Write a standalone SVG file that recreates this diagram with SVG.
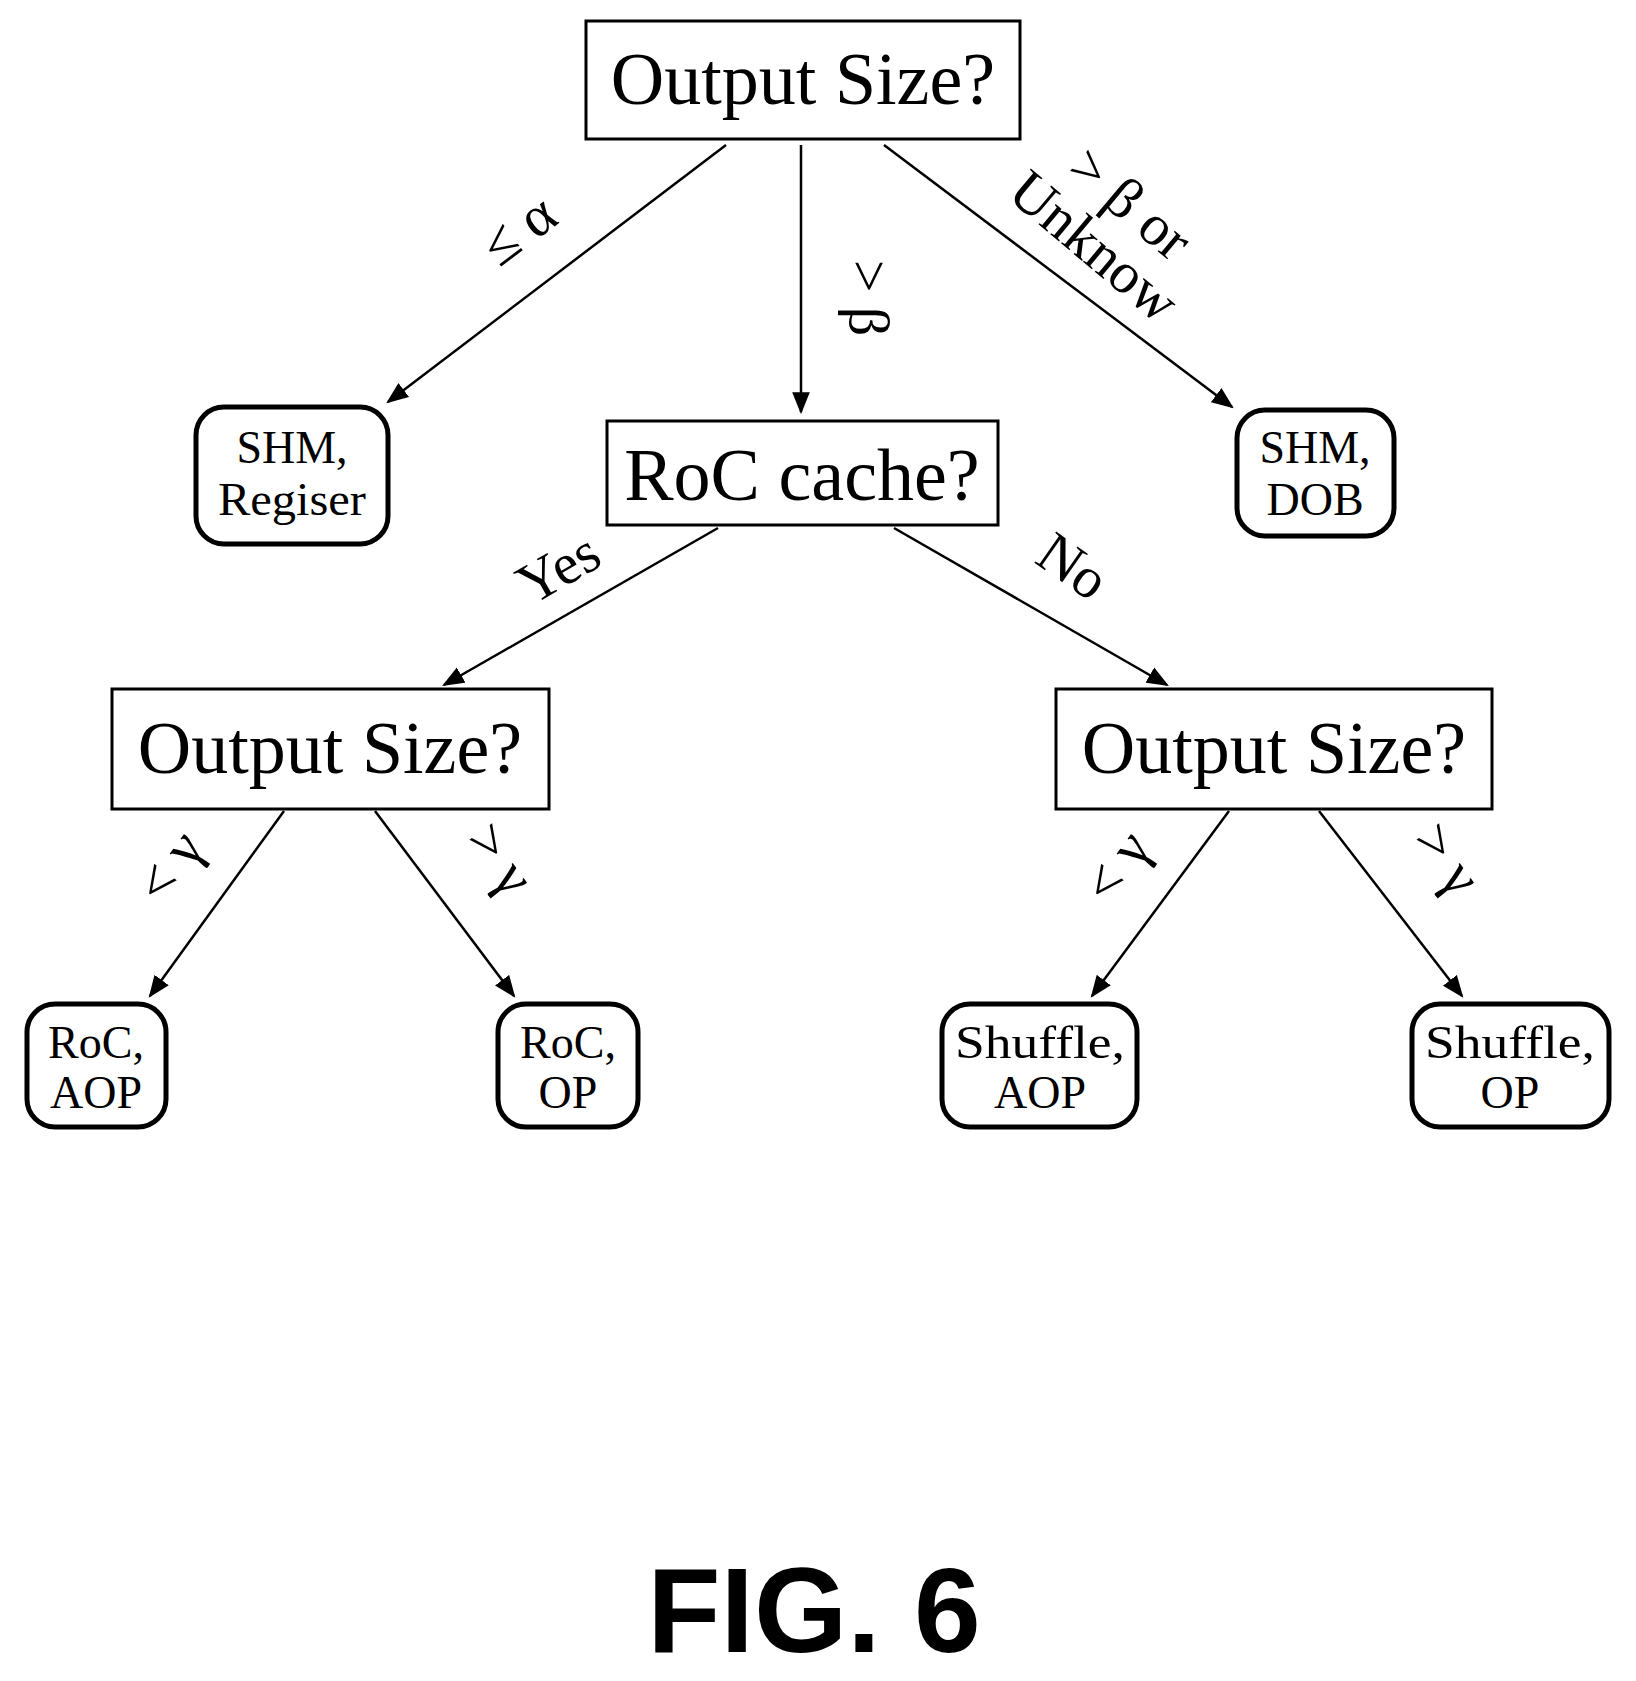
<svg xmlns="http://www.w3.org/2000/svg" width="1636" height="1681" viewBox="0 0 1636 1681">
<style>
.b{fill:#fff;stroke:#000;stroke-width:3}
.r{fill:#fff;stroke:#000;stroke-width:5}
.t{font-family:"Liberation Serif",serif;text-anchor:middle;fill:#000}
.c line{stroke:#000;stroke-width:2.5;marker-end:url(#a2)}
</style>
<defs>
<marker id="a2" viewBox="0 0 10 8" markerWidth="22" markerHeight="18" refX="9" refY="4" orient="auto" markerUnits="userSpaceOnUse"><path d="M0,0 L10,4 L0,8 Z" fill="#000"/></marker></defs>
<rect width="1636" height="1681" fill="#fff"/>
<g class="c">
<line x1="726" y1="145" x2="388" y2="402"/>
<line x1="801" y1="145" x2="801" y2="412"/>
<line x1="884" y1="145" x2="1232" y2="407"/>
<line x1="718" y1="528" x2="444" y2="685"/>
<line x1="894" y1="528" x2="1167" y2="685"/>
<line x1="284" y1="811" x2="150" y2="996"/>
<line x1="375" y1="811" x2="514" y2="996"/>
<line x1="1229" y1="811" x2="1092" y2="996"/>
<line x1="1319" y1="811" x2="1462" y2="996"/>
<g class="t" font-size="58">
<text transform="translate(530,245) rotate(-37)">≤ α</text>
<text transform="translate(850,298) rotate(90)">&gt; β</text>
<text transform="translate(1118,218) rotate(40)"><tspan x="0" dy="0">&gt; β or</tspan><tspan x="0" dy="56">Unknow</tspan></text>
<text transform="translate(568,585) rotate(-30)">Yes</text>
<text transform="translate(1062,582) rotate(35)">No</text>
<text transform="translate(185,878) rotate(-54)">&lt; γ</text>
<text transform="translate(485,870) rotate(54)">&gt; γ</text>
<text transform="translate(1132,878) rotate(-54)">&lt; γ</text>
<text transform="translate(1432,870) rotate(54)">&gt; γ</text>
</g>
</g>
<g id="n1"><rect class="b" x="586" y="21" width="434" height="118"/><text class="t" x="803" y="104" font-size="74">Output Size?</text></g>
<g id="n2"><rect class="b" x="607" y="421" width="391" height="104"/><text class="t" x="802" y="500" font-size="74">RoC cache?</text></g>
<g id="n3"><rect class="r" x="196" y="407" width="192" height="137" rx="28"/><text class="t" font-size="46"><tspan x="292" y="463">SHM,</tspan><tspan x="292" y="515" textLength="148" lengthAdjust="spacingAndGlyphs">Regiser</tspan></text></g>
<g id="n4"><rect class="r" x="1237" y="410" width="157" height="126" rx="28"/><text class="t" font-size="46"><tspan x="1315" y="463">SHM,</tspan><tspan x="1315" y="515">DOB</tspan></text></g>
<g id="n5"><rect class="b" x="112" y="689" width="437" height="120"/><text class="t" x="330" y="773" font-size="74">Output Size?</text></g>
<g id="n6"><rect class="b" x="1056" y="689" width="436" height="120"/><text class="t" x="1274" y="773" font-size="74">Output Size?</text></g>
<g id="n7"><rect class="r" x="27" y="1004" width="139" height="123" rx="28"/><text class="t" font-size="46"><tspan x="96" y="1058">RoC,</tspan><tspan x="96" y="1108">AOP</tspan></text></g>
<g id="n8"><rect class="r" x="498" y="1004" width="140" height="123" rx="28"/><text class="t" font-size="46"><tspan x="568" y="1058">RoC,</tspan><tspan x="568" y="1108">OP</tspan></text></g>
<g id="n9"><rect class="r" x="942" y="1004" width="195" height="123" rx="28"/><text class="t" font-size="46"><tspan x="1040" y="1058" textLength="170" lengthAdjust="spacingAndGlyphs">Shuffle,</tspan><tspan x="1040" y="1108">AOP</tspan></text></g>
<g id="n10"><rect class="r" x="1412" y="1004" width="197" height="123" rx="28"/><text class="t" font-size="46"><tspan x="1510" y="1058" textLength="170" lengthAdjust="spacingAndGlyphs">Shuffle,</tspan><tspan x="1510" y="1108">OP</tspan></text></g>
<text x="814" y="1652" font-family="Liberation Sans,sans-serif" font-weight="bold" font-size="120" text-anchor="middle">FIG. 6</text>
</svg>
